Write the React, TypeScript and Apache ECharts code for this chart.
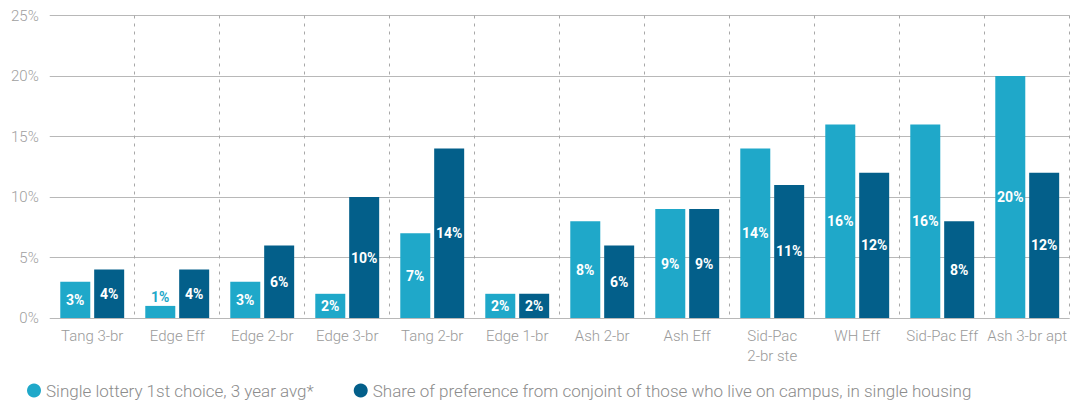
import React, { useEffect, useRef } from "react";
import * as echarts from "echarts";

const categories = [
  "Tang 3-br", "Edge Eff", "Edge 2-br", "Edge 3-br", "Tang 2-br", "Edge 1-br",
  "Ash 2-br", "Ash Eff", "Sid-Pac\n2-br ste", "WH Eff", "Sid-Pac Eff", "Ash 3-br apt",
];
const lotteryValues = [3, 1, 3, 2, 7, 2, 8, 9, 14, 16, 16, 20];
const conjointValues = [4, 4, 6, 10, 14, 2, 6, 9, 11, 12, 8, 12];
const seriesNames = [
  "Single lottery 1st choice, 3 year avg*",
  "Share of preference from conjoint of those who live on campus, in single housing",
];
const yTicks = { min: 0, max: 25, interval: 5 };

const LIGHT = "#1fa8c9";
const DARK = "#035f8a";
const FONT = "Roboto, 'Noto Sans', sans-serif";

function barData(values: number[], color: string) {
  return values.map((v) => {
    const small = v <= 1;
    return {
      value: v,
      label: small
        ? { show: true, position: "top", color, distance: 2 }
        : { show: true, position: "inside", color: "#fff" },
    };
  });
}

export default function App() {
  const ref = useRef<HTMLDivElement>(null);
  useEffect(() => {
    if (!ref.current) return;
    const chart = echarts.init(ref.current, undefined, { renderer: "svg" });
    const labelCommon = {
      fontFamily: FONT,
      fontWeight: "bold",
      fontSize: 14,
      formatter: "{c}%",
    };
    chart.setOption({
      animation: false,
      grid: { left: 40, right: 0, top: 0, bottom: 84, containLabel: false },
      legend: {
        left: 14,
        top: 369,
        icon: "circle",
        itemWidth: 14,
        itemHeight: 14,
        itemGap: 40,
        textStyle: { color: "#8c8c8c", fontSize: 17, fontFamily: FONT, fontWeight: 300 },
        data: seriesNames,
      },
      xAxis: {
        type: "category",
        data: categories,
        axisLine: { show: false },
        axisTick: { show: false },
        axisLabel: {
          color: "#9a9a9a",
          fontSize: 15,
          fontFamily: FONT,
          fontWeight: 300,
          margin: 8,
          lineHeight: 20,
          interval: 0,
        },
        splitLine: {
          show: true,
          interval: (i: number) => i !== 0,
          lineStyle: { color: "#a8a8a8", type: [3, 5], width: 1 },
        },
      },
      yAxis: {
        type: "value",
        min: yTicks.min,
        max: yTicks.max,
        interval: yTicks.interval,
        axisLine: { show: false },
        axisTick: { show: false },
        axisLabel: {
          formatter: "{value}%",
          color: "#a0a0a0",
          fontSize: 15,
          fontFamily: FONT,
          fontWeight: 300,
          margin: 11,
        },
        splitLine: { lineStyle: { color: "#b8b8b8", width: 1.2 } },
      },
      series: [
        {
          name: seriesNames[0],
          type: "bar",
          barWidth: 30,
          barGap: "13%",
          itemStyle: { color: LIGHT },
          label: labelCommon,
          data: barData(lotteryValues, LIGHT),
        },
        {
          name: seriesNames[1],
          type: "bar",
          barWidth: 30,
          barGap: "13%",
          itemStyle: { color: DARK },
          label: labelCommon,
          data: barData(conjointValues, DARK),
        },
      ],
    });
    return () => chart.dispose();
  }, []);
  return <div ref={ref} style={{ width: 1062, height: 394 }} />;
}
